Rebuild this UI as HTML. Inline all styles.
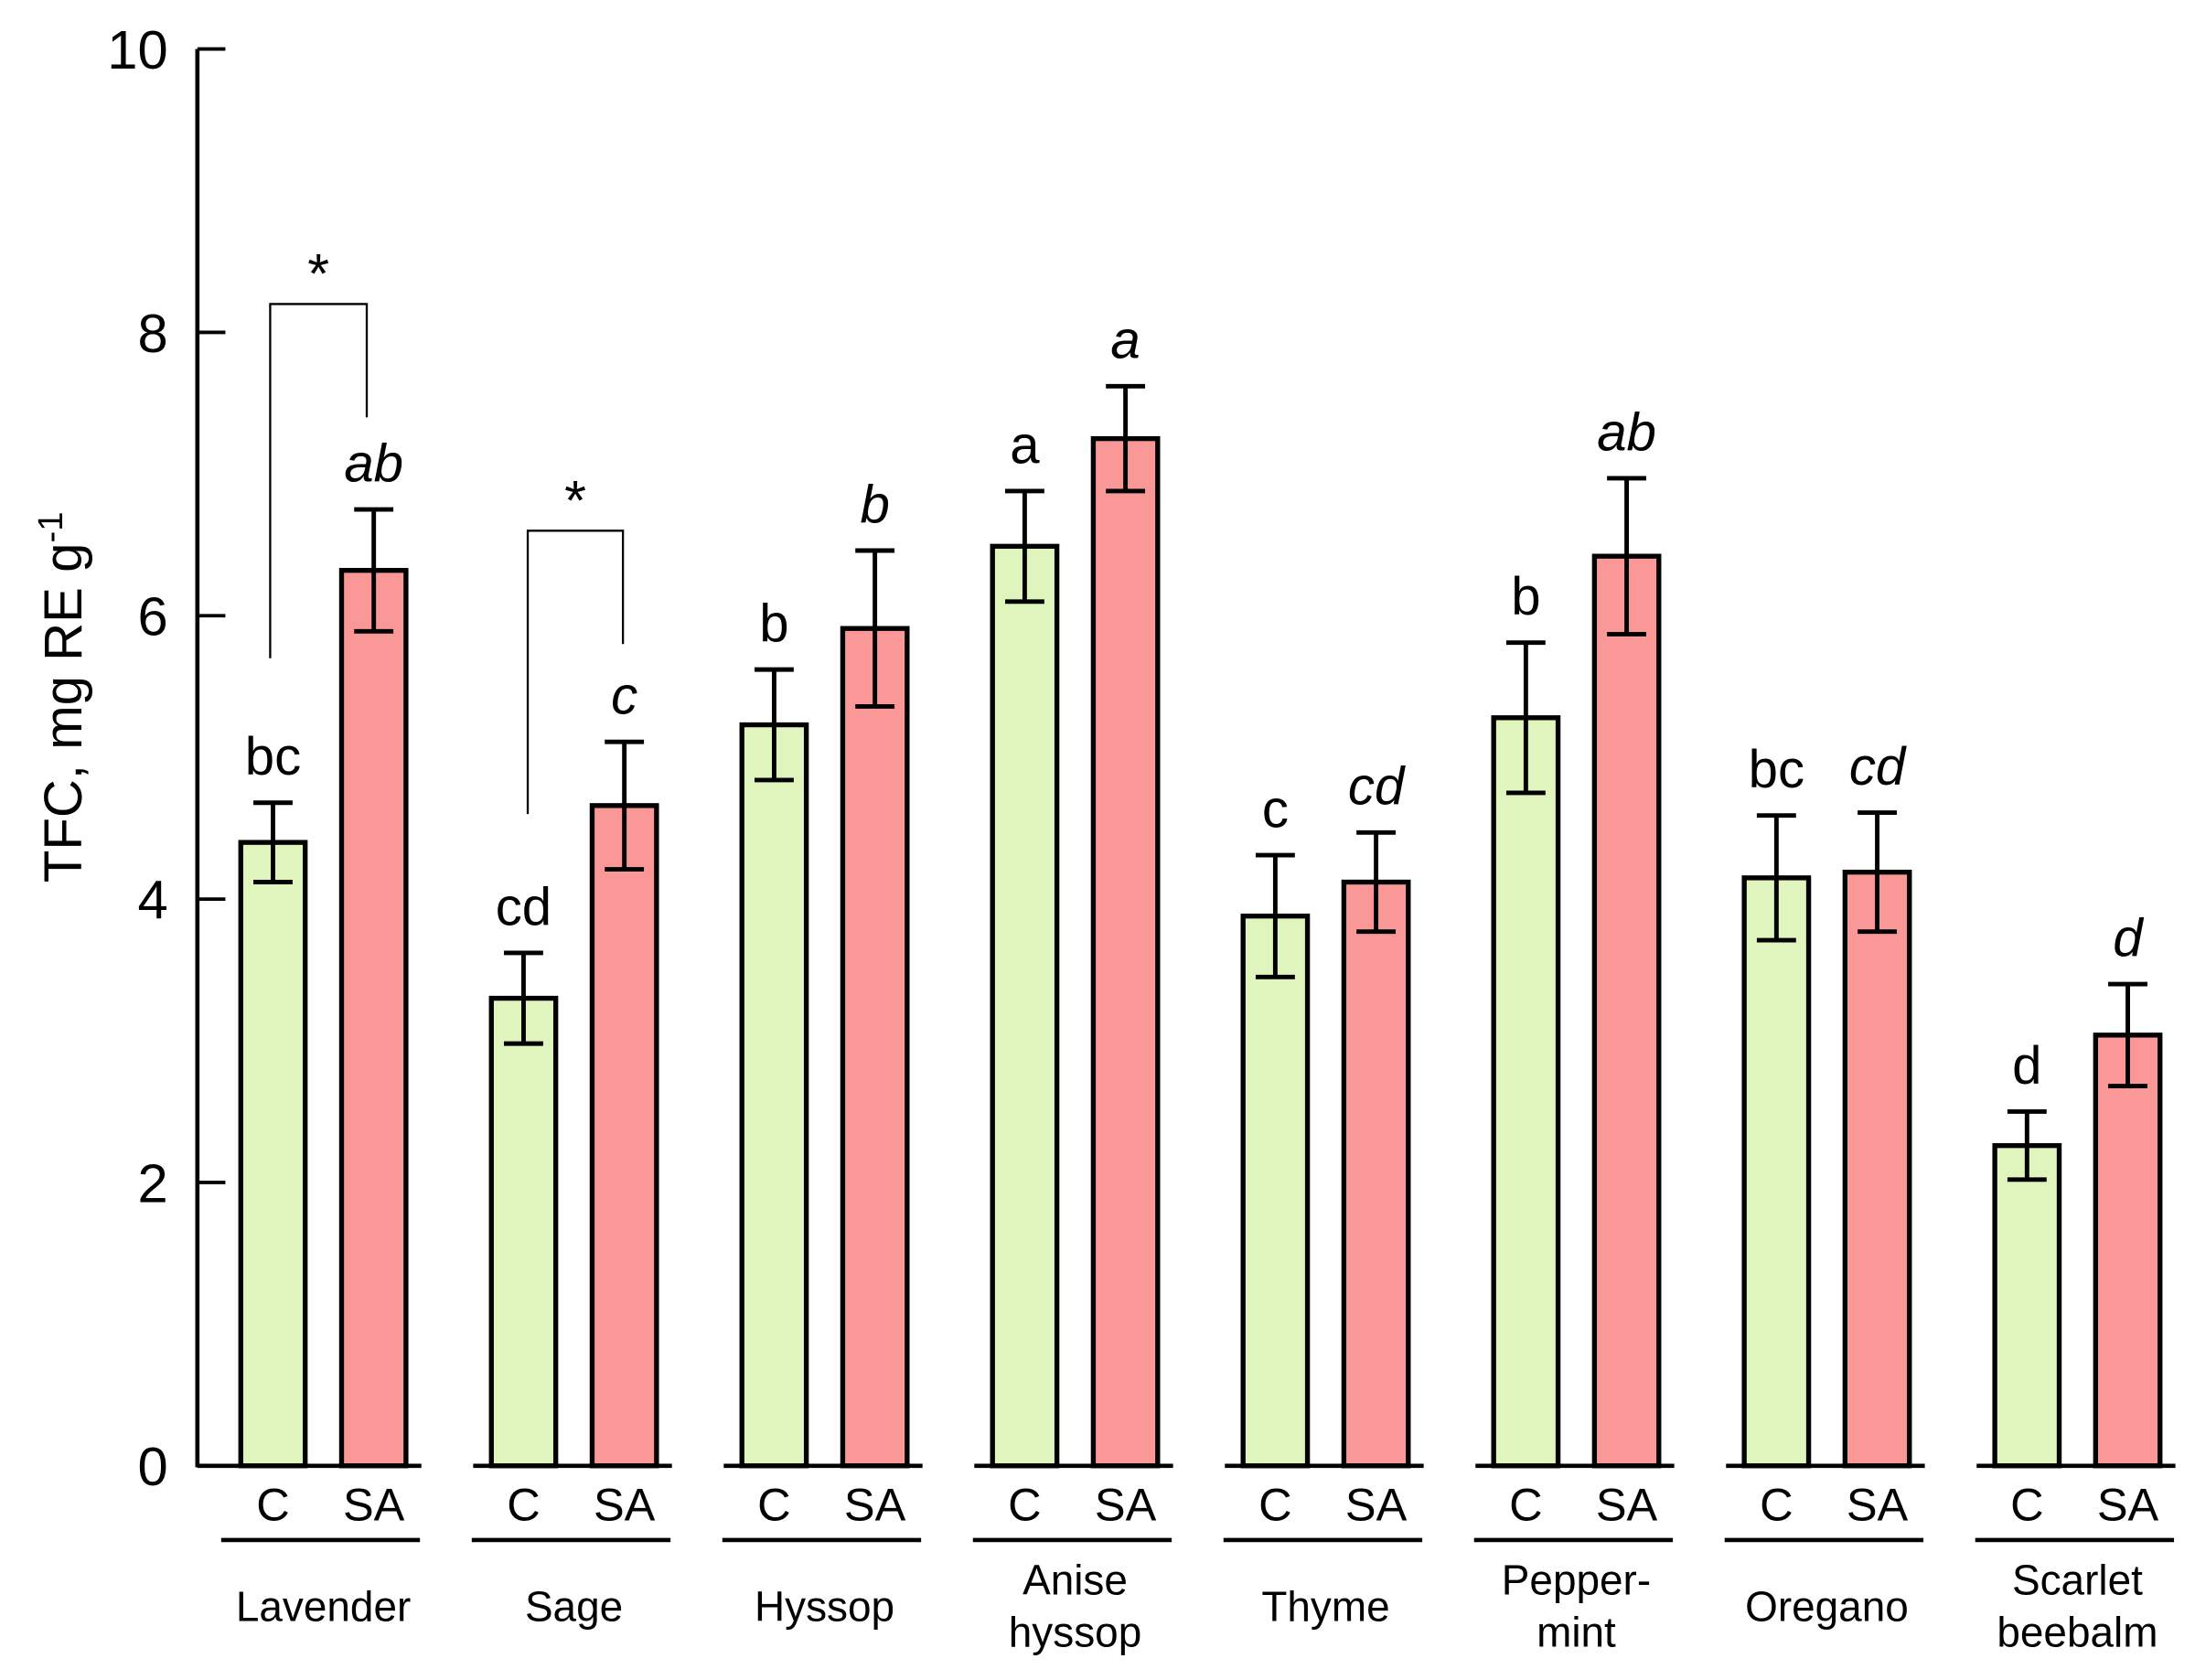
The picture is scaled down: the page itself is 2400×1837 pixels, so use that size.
<!DOCTYPE html>
<html><head><meta charset="utf-8"><style>
html,body{margin:0;padding:0;background:#fff;}
svg{display:block;font-family:"Liberation Sans",Arial,sans-serif;}
</style></head><body>
<svg id="chart" width="2400" height="1837" viewBox="0 0 1568 1200" preserveAspectRatio="none" xmlns="http://www.w3.org/2000/svg">
<g id="axes"></g>
<g id="bars"></g>
<text transform="translate(58,498) rotate(-90)" text-anchor="middle" font-size="38">TFC, mg RE g<tspan baseline-shift="super" font-size="25">-1</tspan></text>
</svg>
<script>
const categories=["Lavender","Sage","Hyssop","Anise|hyssop","Thyme","Pepper-|mint","Oregano","Scarlet|beebalm"];
const cValues=[4.4,3.3,5.23,6.49,3.88,5.28,4.15,2.26];
const cErrors=[0.28,0.32,0.39,0.39,0.43,0.53,0.44,0.24];
const saValues=[6.32,4.66,5.91,7.25,4.12,6.42,4.19,3.04];
const saErrors=[0.43,0.45,0.55,0.37,0.35,0.55,0.42,0.36];
const cLetters=["bc","cd","b","a","c","b","bc","d"];
const saLetters=["ab","c","b","a","cd","ab","cd","d"];
const yTicks=[0,2,4,6,8,10];
const NS="http://www.w3.org/2000/svg";
const y=v=>1047-v*101.2;
const gx=i=>231+i*179;
function mk(tag,attrs,parent,text){const e=document.createElementNS(NS,tag);for(const k in attrs)e.setAttribute(k,attrs[k]);if(text!==undefined)e.textContent=text;parent.appendChild(e);return e;}
const axes=document.getElementById('axes'),bars=document.getElementById('bars');
let e=mk('line',{x1:141,y1:y(10),x2:141,y2:1048,stroke:'#000','stroke-width':3},axes);


yTicks.forEach(t=>{
 let l=mk('line',{x1:141,x2:161,y1:y(t),y2:y(t),stroke:'#000','stroke-width':2.5},axes);
 
 
 let tx=mk('text',{x:120,y:y(t)+14,'text-anchor':'end','font-size':39},axes,String(t));
 
 
});
categories.forEach((c,i)=>{
 const cx=gx(i);
 let base=mk('line',{x1:i===0?141:cx-72,x2:cx+70,y1:1047,y2:1047,stroke:'#000','stroke-width':3},axes);
 
 
 let ul=mk('line',{x1:cx-73,x2:cx+69,y1:1100,y2:1100,stroke:'#000','stroke-width':3},axes);
 
 
 [['C',-36],['SA',36]].forEach(([s,o])=>{
  let t=mk('text',{x:cx+o,y:1086,'text-anchor':'middle','font-size':33},axes,s);
  
  
 });
 const parts=c.split('|');
 parts.forEach((p,j)=>{
  const yy=parts.length===1?1158:1139+j*37;
  let t=mk('text',{x:cx,y:yy,'text-anchor':'middle','font-size':30},axes,p);
  
  
 });
 const series=[[cValues[i],cErrors[i],cLetters[i],-36,'#e0f5be','normal','bar-c'],[saValues[i],saErrors[i],saLetters[i],36,'#fa9898','italic','bar-sa']];
 series.forEach(([v,er,let_,o,fill,st,nm])=>{
  const bx=cx+o;
  let r=mk('rect',{x:bx-23,y:y(v),width:46,height:1047-y(v),fill:fill,stroke:'#000','stroke-width':3.5},bars);
  
  
  let eb=mk('path',{d:`M${bx},${y(v+er)}V${y(v-er)}M${bx-14},${y(v+er)}H${bx+14}M${bx-14},${y(v-er)}H${bx+14}`,stroke:'#000','stroke-width':3.2,fill:'none'},bars);
  
  
  let lt=mk('text',{x:bx,y:y(v+er)-20,'text-anchor':'middle','font-size':38,'font-style':st},bars,let_);
  
  
 });
});
// significance brackets: group, left x offset, right x offset, left end, top, right end
const bracketGroups=[0,1];
const bracketLeft=[5.7,4.6];
const bracketTop=[8.2,6.6];
const bracketRight=[7.4,5.8];
const bracketOffsets=[[-38,31],[-33,35]];
bracketGroups.forEach((i,k)=>{
 const a=gx(i)+bracketOffsets[k][0],b=gx(i)+bracketOffsets[k][1];
 let p=mk('path',{d:`M${a},${y(bracketLeft[k])}V${y(bracketTop[k])}H${b}V${y(bracketRight[k])}`,stroke:'#000','stroke-width':1.5,fill:'none'},bars);
 
 
 let s=mk('text',{x:(a+b)/2,y:y(bracketTop[k])-8,'text-anchor':'middle','font-size':40},bars,'*');
 
 
});
</script>
</body></html>
